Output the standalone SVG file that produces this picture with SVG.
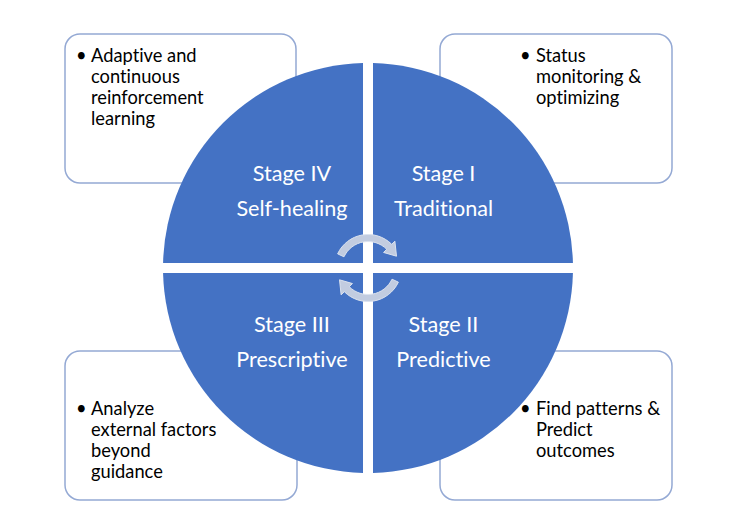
<svg xmlns="http://www.w3.org/2000/svg" width="735" height="527" viewBox="0 0 735 527">
<style>
.box{fill:#fff;stroke:#94A9D4;stroke-width:1.5}
.q{fill:#4472C4}
.st{font-family:Lato,"Liberation Sans",sans-serif;font-size:21.6px;fill:#fff;text-anchor:middle;font-variant-ligatures:none}
.bt{font-family:Lato,"Liberation Sans",sans-serif;font-size:18.3px;fill:#000;font-variant-ligatures:none}
.arr{fill:#C2CCE0;stroke:#DCE3EF;stroke-width:1}
</style>
<defs>
<path id="carrow" d="M337.64,253.84 A33.5,33.5 0 0 1 391.69,244.31 L394.87,241.13 L396.5,256.2 L383.56,252.44 L386.74,249.26 A26.5,26.5 0 0 0 343.98,256.8 Z"/>
</defs>
<rect width="735" height="527" fill="#fff"/>
<g id="box-tl"><rect class="box" x="65" y="34" width="231" height="149" rx="15"/>
<text class="bt"><tspan x="76" y="62">•</tspan><tspan x="91" y="62">Adaptive and</tspan><tspan x="91" y="83">continuous</tspan><tspan x="91" y="104">reinforcement</tspan><tspan x="91" y="125">learning</tspan></text></g>
<g id="box-tr"><rect class="box" x="440" y="34" width="232" height="149" rx="15"/>
<text class="bt"><tspan x="520" y="62">•</tspan><tspan x="536" y="62">Status</tspan><tspan x="536" y="83">monitoring &amp;</tspan><tspan x="536" y="104">optimizing</tspan></text></g>
<g id="box-bl"><rect class="box" x="65" y="351" width="232" height="149" rx="15"/>
<text class="bt"><tspan x="76" y="415">•</tspan><tspan x="91" y="415">Analyze</tspan><tspan x="91" y="436">external factors</tspan><tspan x="91" y="457">beyond</tspan><tspan x="91" y="478">guidance</tspan></text></g>
<g id="box-br"><rect class="box" x="440" y="351" width="232" height="149" rx="15"/>
<text class="bt"><tspan x="520" y="415">•</tspan><tspan x="536" y="415">Find patterns &amp;</tspan><tspan x="536" y="436">Predict</tspan><tspan x="536" y="457">outcomes</tspan></text></g>
<g id="stage-4"><path class="q" d="M363,263 H163.06 A205,205 0 0 1 363,63.06 Z"/>
<text class="st" x="292" y="181">Stage IV</text><text class="st" x="292" y="216">Self-healing</text></g>
<g id="stage-1"><path class="q" d="M373,263 V63.06 A205,205 0 0 1 572.94,263 Z"/>
<text class="st" x="443.5" y="181">Stage I</text><text class="st" x="443.5" y="216">Traditional</text></g>
<g id="stage-2"><path class="q" d="M373,273 H572.94 A205,205 0 0 1 373,472.94 Z"/>
<text class="st" x="443.5" y="332">Stage II</text><text class="st" x="443.5" y="367">Predictive</text></g>
<g id="stage-3"><path class="q" d="M363,273 V472.94 A205,205 0 0 1 163.06,273 Z"/>
<text class="st" x="292" y="332">Stage III</text><text class="st" x="292" y="367">Prescriptive</text></g>
<g id="connectors">
<use href="#carrow" class="arr"/>
<use href="#carrow" class="arr" transform="rotate(180 368 268)"/>
</g>
</svg>
